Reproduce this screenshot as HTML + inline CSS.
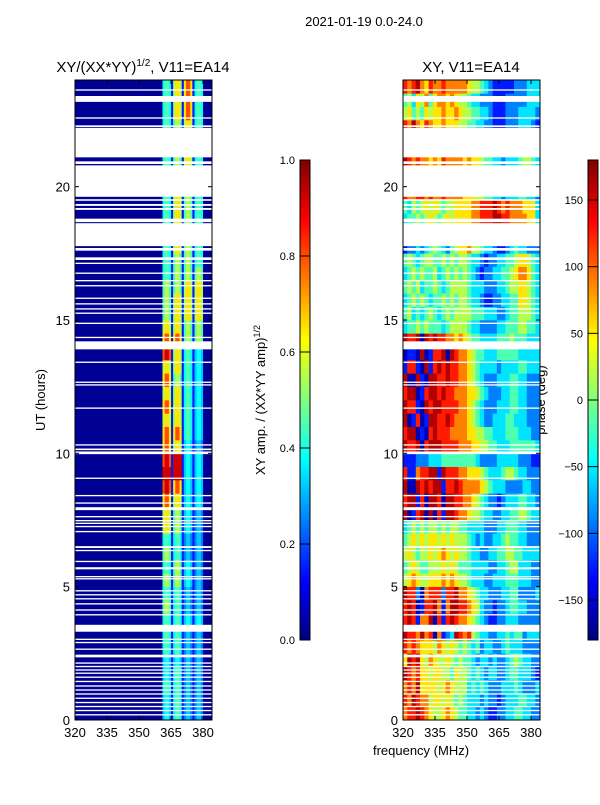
<!DOCTYPE html>
<html><head><meta charset="utf-8"><style>
body{margin:0;background:#fff;}
svg text{font-family:"Liberation Sans",sans-serif;fill:#000;}
</style></head><body>
<svg id="fig" width="600" height="800" viewBox="0 0 600 800" xmlns="http://www.w3.org/2000/svg">
<text x="364" y="26" font-size="13" text-anchor="middle">2021-01-19 0.0-24.0</text>
<text x="143" y="72" font-size="15" text-anchor="middle">XY/(XX*YY)<tspan font-size="10" dy="-6">1/2</tspan><tspan dy="6">, V11=EA14</tspan></text>
<text x="471" y="72" font-size="15" text-anchor="middle">XY, V11=EA14</text>
<text transform="translate(45,400) rotate(-90)" font-size="13" text-anchor="middle">UT (hours)</text>
<text x="421" y="755" font-size="13" text-anchor="middle">frequency (MHz)</text>
<text transform="translate(265,400) rotate(-90)" font-size="13" text-anchor="middle">XY amp. / (XX*YY amp)<tspan font-size="9" dy="-5">1/2</tspan></text>
<text transform="translate(545,400) rotate(-90)" font-size="13" text-anchor="middle">phase (deg)</text>
<g id="ampPanel"></g>
<g id="phasePanel"></g>
<g id="ampBar"></g>
<g id="phaseBar"></g>
<g id="axes"></g>
</svg>
<script>
// ---- data ----
const tStart = 0, tStep = 0.5; // hours per row
const ampFreqStart = 360, ampFreqStep = 1; // MHz per column (amp grid, 360-384)
const ampLowValue = 0.02; // amplitude below 360 MHz
const ampLevels = [0.02,0.15,0.25,0.32,0.38,0.45,0.55,0.65,0.8,0.92]; // digit -> amplitude
const ampRows = [
"034431455412332123320000","034431455412332123320000","045541455412332123320000","034431455412332123320000",
"034431344312332123320000","045541455412332123320000","045541455412332123320000","045541455413443134430000",
"056651455412332123320000","045541455412332123320000","056651566513443123320000","045541566513443123320000",
"056651455412332123320000","045541455412332123320000","067761566513443123320000","067761566513443123320000",
"078871677613443134430000","089981788713443134430000","099991999913443134430000","089981999913443134430000",
"078871677613443123320000","078871788714554134430000","067761677614554134430000","078871677614554134430000",
"067761677614554134430000","078871566514554134430000","067761677614554134430000","089981677614554134430000",
"078871788715665156650000","067761677615665156650000","056651677616776167760000","056651677616776167760000",
"056651566516776167760000","045541566515665156650000","045541566515665145540000","045541677615665145540000",
"045541677615665145540000","045541677615665145540000","045541677615665145540000","045541677615665145540000",
"045541566515665145540000","045541566516776145540000","045541566516776145540000","045541566516776145540000",
"045541566516776145540000","045541677617887145540000","045541677617887145540000","045541677617887145540000"];
const phaseFreqStart = 320, phaseFreqStep = 2;
const phaseRows = [
"78898765567654433232112233443322","87987756656545433323221233344332","78796666567655534343222333432223","98786656655465543432332234433321",
"69896576556545443233232234543322","87876665765654543423322343332222","98879780712398785433223343442333","89817790818987765432112233322222",
"89801889717998876532212234433222","98820788828897765433222334422223","56765566676765543332233344433322","45654455565654443333223345533322",
"56545565676565543322334455443333","45656566565655543232233454433222","34545455454554433332223344433222","90189090819987765543322334455433",
"89918099809988776543221233344332","90098989918898777765433322223322","81178899198887766654333455433222","11122233344444444322223333322211",
"98890899988887776655443334444443","89901089888777766554433344433322","90180199889877765432233344333222","98810989988887765432223334433222",
"89901899898877766543222334433222","90091099889887765432223334433222","18810918989887765433332333344333","01109018890987765443334444433333",
"98890989887767654433334445444333","34454544434555543322223344455443","45343454345455554443332234455543","34545434454545543321122334466543",
"45453445434555543332223345566543","34545445345454543212233445677643","45434554454545543321223344566543","12232345432456675543321123433222",
"34454565456566667788899887777663","34454565456566667788899887777663","43545656545566667788898787776663","87788787787777666554433233344332",
"98787767687777676654433233345543","98787767687777676654433233345543","98787767687777676654433233345543","87976876676665544332211122233321",
"87976876676665544332211122233321","56454656676676554433211122233332","45365746776765543322211122222333","87897687787777765543211111222333"];
// flagged (blank) time intervals in hours
const flagStarts = [0.17,0.33,0.48,0.63,0.79,0.95,1.10,1.25,1.42,1.58,1.73,1.85,1.98,2.11,2.35,2.63,2.88,3.00,3.31,3.92,4.10,4.33,4.52,4.67,4.82,5.27,5.35,5.65,5.92,6.33,6.45,7.04,7.23,7.35,7.45,7.60,7.87,8.11,8.39,9.04,9.97,10.12,10.29,11.67,12.54,12.64,13.39,13.90,14.32,14.85,15.23,15.39,15.58,15.79,16.26,16.45,16.73,17.10,17.25,17.60,17.77,18.67,19.13,19.28,19.47,19.62,20.85,21.10,22.23,22.55,23.18,23.60];
const flagEnds   = [0.22,0.38,0.53,0.68,0.84,1.00,1.15,1.30,1.47,1.63,1.78,1.90,2.03,2.16,2.45,2.68,2.93,3.05,3.57,3.97,4.15,4.38,4.57,4.72,4.87,5.32,5.40,5.73,5.97,6.38,6.52,7.09,7.28,7.40,7.50,7.65,7.98,8.16,8.44,9.09,10.07,10.18,10.34,11.72,12.59,12.69,13.44,14.20,14.37,14.90,15.28,15.44,15.63,15.84,16.31,16.50,16.78,17.15,17.35,17.70,18.63,18.80,19.20,19.35,19.53,20.80,20.95,22.20,22.30,22.60,23.40,23.65];
const ampTicks = [0.0,0.2,0.4,0.6,0.8,1.0];
const ampTickLabels = ["0.0","0.2","0.4","0.6","0.8","1.0"];
const phaseTicks = [-150,-100,-50,0,50,100,150];
const phaseTickLabels = ["\u2212150","\u2212100","\u221250","0","50","100","150"];
const yTicks = [0,5,10,15,20];
const yTickLabels = ["0","5","10","15","20"];
const xTicks = [320,335,350,365,380];
const xTickLabels = ["320","335","350","365","380"];

// ---- geometry ----
const NS="http://www.w3.org/2000/svg";
const panels = {amp:{x0:75,x1:212}, phase:{x0:403,x1:540}};
const fMin=320, fMax=384.2, pTop=80, pBot=720, tMax=24;
function xs(p,f){return p.x0+(f-fMin)/(fMax-fMin)*(p.x1-p.x0);}
function ys(t){return pBot-(t/tMax)*(pBot-pTop);}
function jet(v){v=Math.max(0,Math.min(1,v));
 const r=Math.max(0,Math.min(1,1.5-Math.abs(4*v-3))),g=Math.max(0,Math.min(1,1.5-Math.abs(4*v-2))),b=Math.max(0,Math.min(1,1.5-Math.abs(4*v-1)));
 return `rgb(${Math.round(r*255)},${Math.round(g*255)},${Math.round(b*255)})`;}
function mk(tag,attrs,parent){const e=document.createElementNS(NS,tag);for(const k in attrs)e.setAttribute(k,attrs[k]);parent.appendChild(e);return e;}
function cell(g,x0,x1,y0,y1,col){const r=mk('rect',{x:x0,y:y1,width:x1-x0+0.3,height:y0-y1+0.3,fill:col},g);
 
 }

// amp panel
const ga=document.getElementById('ampPanel');
ampRows.forEach((row,i)=>{const t0=tStart+i*tStep,t1=t0+tStep;
 cell(ga,xs(panels.amp,fMin),xs(panels.amp,ampFreqStart),ys(t0),ys(t1),jet(ampLowValue));
 for(let j=0;j<row.length;j++){const f0=ampFreqStart+j*ampFreqStep,f1=Math.min(fMax,f0+ampFreqStep);
  cell(ga,xs(panels.amp,f0),xs(panels.amp,f1),ys(t0),ys(t1),jet(ampLevels[+row[j]]));}});
// phase panel
const gp=document.getElementById('phasePanel');
phaseRows.forEach((row,i)=>{const t0=tStart+i*tStep,t1=t0+tStep;
 for(let j=0;j<row.length;j++){const f0=phaseFreqStart+j*phaseFreqStep,f1=Math.min(fMax,f0+phaseFreqStep);
  const ph=-180+(+row[j]+0.5)*36;
  cell(gp,xs(panels.phase,f0),xs(panels.phase,f1),ys(t0),ys(t1),jet((ph+180)/360));}});
// flags
[ga,gp].forEach((g,k)=>{const p=k?panels.phase:panels.amp;
 flagStarts.forEach((s,i)=>{const r=mk('rect',{x:p.x0,y:ys(flagEnds[i]),width:p.x1-p.x0,height:ys(s)-ys(flagEnds[i]),fill:'#fff'},g);
  
  });});

// axes
const ax=document.getElementById('axes');
[panels.amp,panels.phase].forEach((p,k)=>{
 const fr=mk('rect',{x:p.x0,y:pTop,width:p.x1-p.x0,height:pBot-pTop,fill:'none',stroke:'#000','stroke-width':1},ax);
 
 
 yTicks.forEach((t,i)=>{const y=ys(t);
  mk('line',{x1:p.x0,x2:p.x0+4,y1:y,y2:y,stroke:'#000'},ax);mk('line',{x1:p.x1,x2:p.x1-4,y1:y,y2:y,stroke:'#000'},ax);
  const tx=mk('text',{x:p.x0-5,y:y+5,'font-size':13,'text-anchor':'end'},ax);tx.textContent=yTickLabels[i];
  
  });
 xTicks.forEach((f,i)=>{const x=xs(p,f);
  mk('line',{x1:x,x2:x,y1:pBot,y2:pBot-4,stroke:'#000'},ax);mk('line',{x1:x,x2:x,y1:pTop,y2:pTop+4,stroke:'#000'},ax);
  const tx=mk('text',{x:x,y:pBot+17,'font-size':13,'text-anchor':'middle'},ax);tx.textContent=xTickLabels[i];
  
  });
});
// colorbars
function cbar(gid,x,vmin,vmax,ticks,labels){const g=document.getElementById(gid);const top=160,bot=640,n=120;
 for(let i=0;i<n;i++){const v0=i/n;const y=bot-(i+1)/n*(bot-top);
  mk('rect',{x:x,y:y,width:10,height:(bot-top)/n+0.5,fill:jet(v0+0.5/n)},g);}
 mk('rect',{x:x,y:top,width:10,height:bot-top,fill:'none',stroke:'#000'},g);
 ticks.forEach((t,i)=>{const y=bot-(t-vmin)/(vmax-vmin)*(bot-top);
  mk('line',{x1:x,x2:x+10,y1:y,y2:y,stroke:'#000'},g);
  const tx=mk('text',{x:x-5,y:y+4,'font-size':11,'text-anchor':'end'},g);tx.textContent=labels[i];
  
  });}
cbar('ampBar',300,0,1,ampTicks,ampTickLabels);
cbar('phaseBar',588,-180,180,phaseTicks,phaseTickLabels);
</script>
</body></html>
